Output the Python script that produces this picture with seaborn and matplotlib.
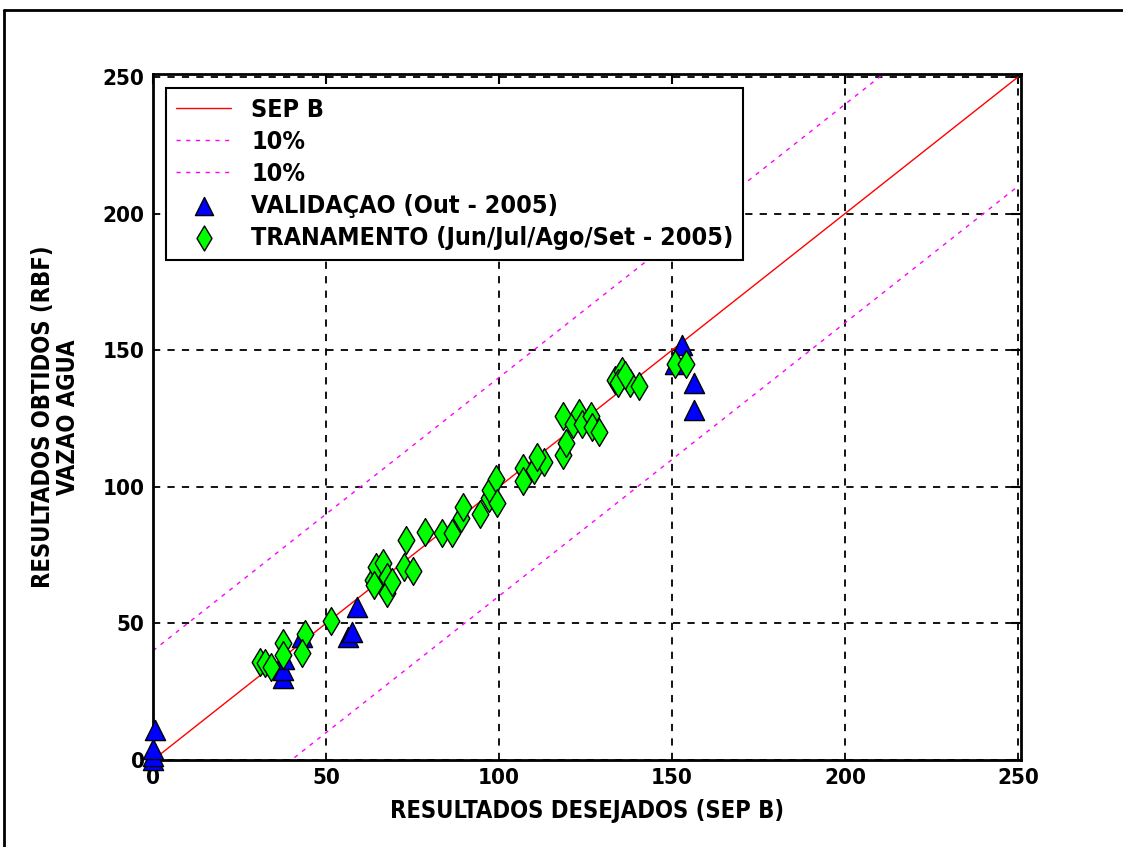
import numpy as np
import pandas as pd
import seaborn as sns
import matplotlib.pyplot as plt
from matplotlib.lines import Line2D

# reference line endpoints and +/- band offset (10%)
ref_x = [0, 250]
band = 40

# VALIDACAO (Out - 2005)
val_x = [0, 0, 0, 0.5, 37.5, 37.5, 38, 43, 56.5, 57.5, 59, 151, 153, 156.5, 156.5]
val_y = [0, 1.5, 4, 11, 30, 33, 37, 45, 45, 47, 56, 145, 152, 138, 128]

# TRANAMENTO (Jun/Jul/Ago/Set - 2005)
tr_x = [31, 32.5, 34, 37.5, 37.5, 44, 43, 51.5,
        63.5, 64.5, 66.5, 67.5, 64, 67.5, 69, 72.5, 75, 73, 78.5, 83.5, 86.5,
        89, 89.5, 94.5, 97, 97.5, 99, 99.5,
        107, 110, 113, 107, 111, 118.5, 119.5, 118.5, 121.5, 123, 124, 126.5, 127, 129,
        133.5, 135.5, 134.5, 138, 140.5, 136.5,
        151, 154]
tr_y = [36, 35.5, 34, 43, 38.5, 46, 39, 51,
        66, 70.5, 72, 67, 64, 61, 65, 70.5, 69, 80.5, 83.5, 83, 83,
        88.5, 92.5, 90, 96, 99, 103, 94,
        107, 106, 109, 102, 111, 111.5, 116, 126, 123, 127, 123, 126, 122, 120,
        139, 142.5, 138, 138, 137, 141,
        145, 145]

sns.set_style('white')
plt.rcParams['font.family'] = ['DejaVu Sans']
plt.rcParams['font.stretch'] = 'condensed'
plt.rcParams['font.weight'] = 'bold'
for k in ['text.color', 'axes.labelcolor', 'xtick.color', 'ytick.color']:
    plt.rcParams[k] = 'black'

fig = plt.figure(figsize=(11.23, 8.47), dpi=100)
lim = 251
ax_w = 865 * lim / 250
ax_h = 683 * lim / 250
ax = fig.add_axes([153 / 1123, 1 - 760 / 847, ax_w / 1123, ax_h / 847])

rx = np.array(ref_x, dtype=float)
sns.lineplot(x=rx, y=rx, color='red', linewidth=1, label='SEP B', ax=ax)
sns.lineplot(x=rx, y=rx + band, color='magenta', linewidth=1, linestyle=(0, (3, 4)),
             label='10%', ax=ax)
sns.lineplot(x=rx, y=rx - band, color='magenta', linewidth=1, linestyle=(0, (3, 4)),
             label='10%', ax=ax)

sns.scatterplot(x=val_x, y=val_y, marker='^', s=210, color='#0000ff',
                edgecolor='black', linewidth=1, label='VALIDAÇAO (Out - 2005)',
                ax=ax, zorder=3, clip_on=False)
sns.scatterplot(x=tr_x, y=tr_y, marker='d', s=200, color='#00ff00',
                edgecolor='black', linewidth=1,
                label='TRANAMENTO (Jun/Jul/Ago/Set - 2005)', ax=ax, zorder=4)

ax.set_xlim(0, lim)
ax.set_ylim(0, lim)
ax.set_xticks([0, 50, 100, 150, 200, 250])
ax.set_yticks([0, 50, 100, 150, 200, 250])
ax.grid(True, color='black', linestyle=(0, (4, 4)), linewidth=1.3)
ax.tick_params(direction='in', length=7, width=1.5, top=True, right=True,
               labelsize=16, pad=6)
for sp in ax.spines.values():
    sp.set_visible(True)
    sp.set_color('black')
    sp.set_linewidth(2)

ax.set_xlabel('RESULTADOS DESEJADOS (SEP B)', fontsize=17, fontweight='bold', labelpad=8)
ax.set_ylabel('RESULTADOS OBTIDOS (RBF)\nVAZAO AGUA', fontsize=17, fontweight='bold',
              labelpad=16, linespacing=1.05)

leg = ax.legend(loc='upper left', bbox_to_anchor=(0.015, 0.98), borderaxespad=0,
                fontsize=18, frameon=True, fancybox=False, framealpha=1,
                edgecolor='black', handlelength=2.2, labelspacing=0.32,
                borderpad=0.4, markerscale=0.9)
leg.get_frame().set_linewidth(1.5)

# outer frame of the original window
fig.add_artist(Line2D([4 / 1123, 4 / 1123], [0, 1 - 10 / 847], color='black',
                      linewidth=2, transform=fig.transFigure))
fig.add_artist(Line2D([4 / 1123, 1], [1 - 10 / 847, 1 - 10 / 847], color='black',
                      linewidth=2, transform=fig.transFigure))

fig.savefig('out.png', dpi=100)
